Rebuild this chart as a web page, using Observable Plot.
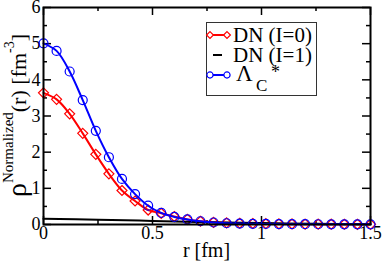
<!DOCTYPE html>
<html><head><meta charset="utf-8">
<script src="https://cdn.jsdelivr.net/npm/d3@7"></script>
<script src="https://cdn.jsdelivr.net/npm/@observablehq/plot@0.6"></script>
<style>body{margin:0;background:#fff} svg{overflow:visible}</style>
</head><body><div id="chart"></div>
<script>
// r grid (fm)
const r = [0,0.06,0.12,0.18,0.24,0.30,0.36,0.42,0.48,0.54,0.60,0.66,0.72,0.78,0.84,0.90,0.96,1.02,1.08,1.14,1.20,1.26,1.32,1.38,1.44,1.50];
// DN (I=0)
const dnI0 = [3.64,3.46,3.06,2.52,1.94,1.40,0.94,0.65,0.40,0.31,0.22,0.14,0.09,0.06,0.045,0.035,0.028,0.022,0.018,0.015,0.012,0.010,0.008,0.007,0.006,0.005];
// Lambda_c*
const lambdaC = [5.01,4.80,4.23,3.44,2.59,1.86,1.26,0.84,0.52,0.32,0.21,0.14,0.09,0.055,0.035,0.025,0.02,0.015,0.012,0.010,0.008,0.007,0.006,0.005,0.005,0.004];
// DN (I=1)
const rI1 = [0,0.25,0.5,0.75,1.0,1.25,1.5];
const dnI1 = [0.16,0.13,0.10,0.065,0.04,0.02,0.01];

const xTicks = [0,0.5,1,1.5];
const xTickLabels = ["0","0.5","1","1.5"];
const xMinor = [0.25,0.75,1.25];
const yTicks = [0,1,2,3,4,5,6];
const yTickLabels = ["0","1","2","3","4","5","6"];
const yMinor = [0.5,1.5,2.5,3.5,4.5,5.5];

const W = 382, H = 262, mt = 7, mb = 38, ml = 43, mr = 12;
const ph = H - mt - mb, pw = W - ml - mr;

const d0 = r.map((x,i)=>({x, y: dnI0[i]}));
const dL = r.map((x,i)=>({x, y: lambdaC[i]}));
const d1 = rI1.map((x,i)=>({x, y: dnI1[i]}));

const chart = Plot.plot({
  width: W, height: H,
  marginTop: mt, marginBottom: mb, marginLeft: ml, marginRight: mr,
  style: {fontFamily: "'Liberation Serif', serif", fontSize: "18px", color: "black", background: "white", overflow: "visible"},
  x: {domain: [0,1.5], label: null},
  y: {domain: [0,6], label: null},
  marks: [
    Plot.ruleX(xTicks, {x: d=>d, insetTop: ph-8, strokeWidth: 1.5}),
    Plot.ruleX(xTicks, {x: d=>d, insetBottom: ph-8, strokeWidth: 1.5}),
    Plot.ruleX(xMinor, {x: d=>d, insetTop: ph-4, strokeWidth: 1.5}),
    Plot.ruleX(xMinor, {x: d=>d, insetBottom: ph-4, strokeWidth: 1.5}),
    Plot.ruleY(yTicks, {y: d=>d, insetRight: pw-8, strokeWidth: 1.5}),
    Plot.ruleY(yTicks, {y: d=>d, insetLeft: pw-8, strokeWidth: 1.5}),
    Plot.ruleY(yMinor, {y: d=>d, insetRight: pw-4, strokeWidth: 1.5}),
    Plot.ruleY(yMinor, {y: d=>d, insetLeft: pw-4, strokeWidth: 1.5}),
    Plot.axisX(xTicks, {tickSize: 0, tickPadding: 2, tickFormat: (d,i)=>xTickLabels[i], fontSize: 18, label: null}),
    Plot.axisY(yTicks, {tickSize: 0, tickPadding: 3, tickFormat: (d,i)=>yTickLabels[i], fontSize: 18, label: null}),
    Plot.line(d0, {x:"x", y:"y", stroke:"red", strokeWidth: 2, curve:"catmull-rom"}),
    Plot.dot(d0, {x:"x", y:"y", symbol:"diamond2", r: 4.5, stroke:"red", strokeWidth: 1.2, fill: "none"}),
    Plot.line(d1, {x:"x", y:"y", stroke:"black", strokeWidth: 2, curve:"catmull-rom"}),
    Plot.line(dL, {x:"x", y:"y", stroke:"blue", strokeWidth: 2, curve:"catmull-rom"}),
    Plot.dot(dL, {x:"x", y:"y", symbol:"circle", r: 4.5, stroke:"blue", strokeWidth: 1.2, fill: "none"}),
    Plot.frame({stroke:"black", strokeWidth: 2})
  ]
});
document.getElementById("chart").append(chart);

const svg = d3.select(chart);
const FF = "'Liberation Serif', serif";
// x label
svg.append("text").attr("x", (ml + W - mr)/2).attr("y", 257).attr("text-anchor","middle")
  .attr("font-family", FF).attr("font-size", 20).attr("fill","black").text("r [fm]");
// y label
const yl = svg.append("text").attr("transform","translate(26,197) rotate(-90)")
  .attr("text-anchor","start").attr("font-family", FF).attr("fill","black");
yl.append("tspan").attr("font-size", 28).text("ρ");
yl.append("tspan").attr("font-size", 15).attr("dy", -13).text("Normalized");
yl.append("tspan").attr("font-size", 22).attr("dy", 13).text("(r) [fm");
yl.append("tspan").attr("font-size", 14).attr("dy", -12).text("-3");
yl.append("tspan").attr("font-size", 22).attr("dy", 12).text("]");

// legend
const lg = svg.append("g").attr("text-anchor","start");
lg.append("rect").attr("x", 206.5).attr("y", 22.5).attr("width", 110).attr("height", 73)
  .attr("fill","white").attr("stroke","#333").attr("stroke-width", 1);
const rows = [
  {label: "DN (I=0)", color: "red", sym: "diamond", y: 35},
  {label: "DN (I=1)", color: "black", sym: null, y: 55},
  {label: "Λ", sub: "C", sup: "*", color: "blue", sym: "circle", y: 75}
];
const txt = (x, y, size, s) => lg.append("text").attr("x", x).attr("y", y).attr("text-anchor","start")
  .attr("font-family", FF).attr("font-size", size).attr("fill","black").text(s);
rows.forEach(row => {
  if (row.sym) {
    lg.append("line").attr("x1", 210).attr("x2", 227).attr("y1", row.y).attr("y2", row.y)
      .attr("stroke", row.color).attr("stroke-width", 2);
    [210, 227].forEach(cx => {
      const s = d3.symbol(row.sym === "circle" ? d3.symbolCircle : d3.symbolDiamond2, 30);
      lg.append("path").attr("d", s()).attr("transform", `translate(${cx},${row.y})`)
        .attr("fill","white").attr("stroke", row.color).attr("stroke-width", 1.2);
    });
  } else {
    lg.append("line").attr("x1", 213).attr("x2", 222).attr("y1", row.y).attr("y2", row.y)
      .attr("stroke", row.color).attr("stroke-width", 2);
  }
  if (!row.sub) {
    txt(233, row.y + 7, 21, row.label);
  } else {
    txt(236, row.y + 6, 23, row.label);
    txt(256, row.y + 16, 17, row.sub);
    txt(271, row.y + 3, 18, row.sup);
  }
});
</script>
</body></html>
